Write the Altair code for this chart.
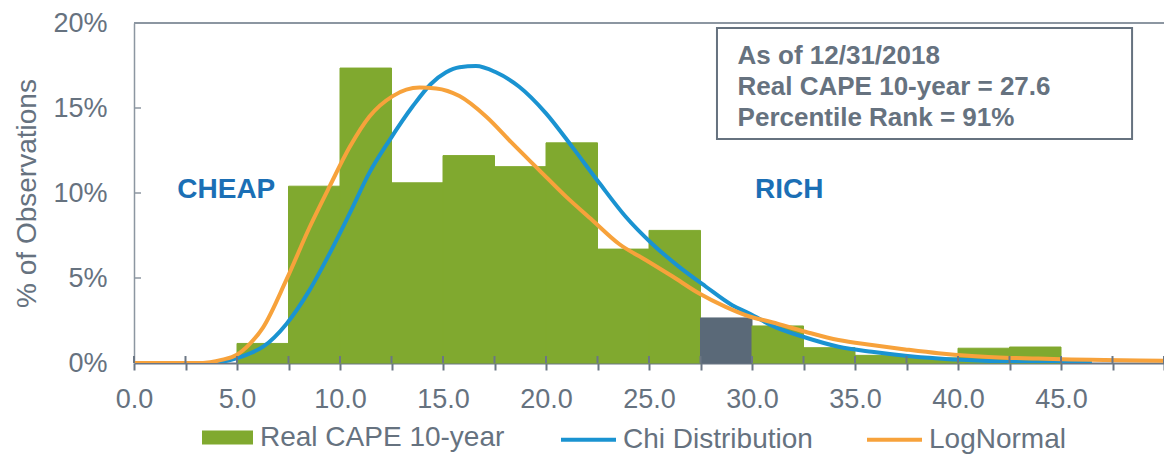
import altair as alt
import pandas as pd

# ---- data ----
bin_start = [5.0, 7.5, 10.0, 12.5, 15.0, 17.5, 20.0, 22.5, 25.0, 27.5, 30.0, 32.5, 35.0, 37.5, 40.0, 42.5]
bin_pct = [1.15, 10.4, 17.35, 10.6, 12.2, 11.55, 12.95, 6.7, 7.8, 2.65, 2.18, 0.9, 0.45, 0.3, 0.87, 0.94]
bin_group = ["Real CAPE 10-year"] * 9 + ["Current"] + ["Real CAPE 10-year"] * 6
bin_width = 2.5

chi_x = [3.7, 4.3, 4.97, 5.6, 6.27, 7.4, 8.53, 9.5, 10.47, 11.43, 12.4, 13.53, 14.4, 15.15, 15.8, 16.6,
         17.57, 18.7, 19.99, 21.28, 22.58, 23.87, 25.16, 26.45, 27.75, 29.04, 29.9, 30.97, 32.59, 34.2,
         35.82, 37.44, 39.05, 40.67, 42.28, 44.7, 46.5]
chi_y = [0.0, 0.08, 0.27, 0.55, 0.96, 2.3, 4.3, 6.45, 8.8, 11.2, 13.1, 15.1, 16.4, 17.1, 17.4, 17.47,
         17.1, 16.25, 14.7, 12.7, 10.6, 8.6, 7.0, 5.67, 4.5, 3.4, 2.9, 2.2, 1.5, 0.96,
         0.66, 0.43, 0.27, 0.16, 0.08, 0.02, 0.0]

logn_x = [0.0, 3.0, 3.7, 4.3, 4.97, 5.6, 6.27, 7.4, 8.53, 9.5, 10.47, 11.43, 12.56, 13.86, 14.67, 15.8,
          17.09, 18.38, 19.67, 20.96, 22.25, 23.55, 24.84, 26.13, 27.42, 28.72, 29.84, 30.97, 32.59,
          34.2, 35.82, 37.44, 39.05, 40.67, 42.28, 43.9, 45.5, 47.1, 50.3]
logn_y = [0.0, 0.0, 0.05, 0.2, 0.47, 1.1, 2.1, 4.9, 8.0, 10.4, 12.7, 14.5, 15.7, 16.2, 16.15, 15.7,
          14.5, 12.9, 11.35, 9.8, 8.4, 7.0, 6.06, 5.1, 4.1, 3.3, 2.75, 2.4, 1.84,
          1.35, 1.06, 0.8, 0.57, 0.41, 0.31, 0.27, 0.21, 0.18, 0.12]

x_ticks = [i * 2.5 for i in range(21)]
y_ticks = [0.0, 0.05, 0.10, 0.15, 0.20]

note_lines = ["As of 12/31/2018", "Real CAPE 10-year = 27.6", "Percentile Rank = 91%"]

# ---- styles ----
FONT = "Liberation Sans"
GRAY = "#66727f"
AXIS = "#6b7684"
GREEN = "#80a92f"
DARK = "#5a6978"
BLUE = "#1a93d1"
ORANGE = "#f7a23b"
LABEL_BLUE = "#1b6fb5"

XMAX = 50.0

bars = pd.DataFrame({
    "x0": bin_start,
    "x1": [b + bin_width for b in bin_start],
    "pct": [v / 100 for v in bin_pct],
    "group": bin_group,
})
lines = pd.concat([
    pd.DataFrame({"x": chi_x, "y": [v / 100 for v in chi_y], "series": "Chi Distribution"}),
    pd.DataFrame({"x": logn_x, "y": [v / 100 for v in logn_y], "series": "LogNormal"}),
])

xscale = alt.Scale(domain=[0, XMAX], nice=False, zero=False)
yscale = alt.Scale(domain=[0, 0.2], nice=False)
group_scale = alt.Scale(domain=["Real CAPE 10-year", "Current"], range=[GREEN, DARK])

xaxis = alt.Axis(
    values=x_ticks,
    labelExpr="(datum.value % 5 == 0 && datum.value < 50) ? format(datum.value, '.1f') : ''",
    title=None, grid=False, tickSize=7, tickWidth=2, tickColor=AXIS,
    domainColor=AXIS, domainWidth=2, labelFontSize=27, labelColor=GRAY, labelFont=FONT,
    labelPadding=16, labelFlush=False, labelOverlap=False,
)
yaxis = alt.Axis(
    values=y_ticks, format=".0%", title="% of Observations", grid=False, ticks=False,
    domainColor="#8c96a1", domainWidth=1.5, labelFontSize=27, labelColor=GRAY, labelFont=FONT,
    labelPadding=27, titleFontSize=28, titleFont=FONT, titleFontWeight="normal", titleColor=GRAY,
    titlePadding=11,
)

hist = alt.Chart(bars).mark_rect(strokeWidth=1).encode(
    x=alt.X("x0:Q", scale=xscale, axis=xaxis),
    x2="x1:Q",
    y=alt.Y("pct:Q", scale=yscale, axis=yaxis),
    y2=alt.datum(0),
    fill=alt.Fill(
        "group:N",
        scale=group_scale,
        legend=alt.Legend(
            values=["Real CAPE 10-year"], title=None, orient="none", legendX=68, legendY=389,
            symbolType="M-1,-0.275H1V0.275H-1Z", symbolSize=2601, symbolOpacity=1,
            labelFontSize=28, labelFont=FONT, labelColor=GRAY, labelOffset=7, symbolStrokeWidth=0,
            labelLimit=500,
        ),
    ),
    stroke=alt.Stroke("group:N", scale=group_scale, legend=None),
)

curves = alt.Chart(lines).mark_line(strokeWidth=4, interpolate="monotone", clip=True).encode(
    x=alt.X("x:Q", scale=xscale),
    y=alt.Y("y:Q", scale=yscale),
    stroke=alt.Stroke(
        "series:N",
        scale=alt.Scale(domain=["Chi Distribution", "LogNormal"], range=[BLUE, ORANGE]),
        legend=alt.Legend(
            title=None, orient="none", legendX=425, legendY=387, direction="horizontal",
            symbolType="stroke", symbolSize=3025, symbolStrokeWidth=4, columnPadding=46,
            labelFontSize=28, labelFont=FONT, labelColor=GRAY, labelOffset=5, labelLimit=500,
        ),
    ),
)

top_rule = alt.Chart(pd.DataFrame({"y": [0.2]})).mark_rule(color="#8c96a1", strokeWidth=2).encode(
    y=alt.Y("y:Q", scale=yscale)
)

xtick_up = alt.Chart(pd.DataFrame({"x": x_ticks})).mark_rule(color=AXIS, strokeWidth=2).encode(
    x=alt.X("x:Q", scale=xscale), y=alt.datum(0), y2=alt.datum(0.0041)
)
ytick_in = alt.Chart(pd.DataFrame({"y": y_ticks[1:4]})).mark_rule(color="#8c96a1", strokeWidth=1.5).encode(
    y=alt.Y("y:Q", scale=yscale), x=alt.datum(0), x2=alt.datum(0.34)
)

note_box = alt.Chart(pd.DataFrame({"a": [0]})).mark_rect(
    fill="white", fillOpacity=0, stroke=GRAY, strokeWidth=2
).encode(
    x=alt.datum(28.3), x2=alt.datum(48.45), y=alt.datum(0.197), y2=alt.datum(0.1318)
)
note_text = alt.Chart(pd.DataFrame({"a": [0]})).mark_text(
    text=note_lines, align="left", baseline="alphabetic", font=FONT, fontSize=26,
    fontWeight="bold", color=GRAY, lineHeight=31,
).encode(x=alt.datum(29.3), y=alt.datum(0.176))

cheap = alt.Chart(pd.DataFrame({"a": [0]})).mark_text(
    text="CHEAP", align="left", baseline="alphabetic", font=FONT, fontSize=28,
    fontWeight="bold", color=LABEL_BLUE,
).encode(x=alt.datum(2.1), y=alt.datum(0.097))
rich = alt.Chart(pd.DataFrame({"a": [0]})).mark_text(
    text="RICH", align="left", baseline="alphabetic", font=FONT, fontSize=28,
    fontWeight="bold", color=LABEL_BLUE,
).encode(x=alt.datum(30.15), y=alt.datum(0.097))

chart = alt.layer(
    hist, curves, top_rule, xtick_up, ytick_in, note_box, note_text, cheap, rich
).resolve_scale(fill="independent", stroke="independent").properties(
    width=1030, height=340,
    autosize=alt.AutoSizeParams(type="none"),
    padding={"left": 126, "top": 15, "right": 0, "bottom": 91},
    background="white",
).configure_view(stroke=None)

chart.save("out.html", embed_options={"renderer": "svg", "actions": False})
